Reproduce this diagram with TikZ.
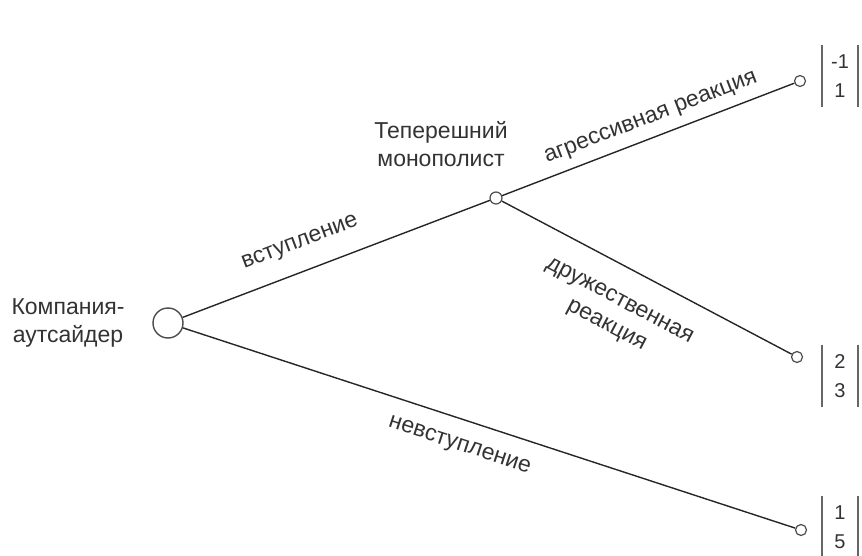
\documentclass[tikz,border=0pt]{standalone}
\usepackage{fontspec}
\setmainfont{Liberation Sans}
\usetikzlibrary{positioning}

\begin{document}
\begin{tikzpicture}[x=0.5pt,y=-0.5pt,
	% Styles
	bignode/.style={circle,draw=black!70,fill=white,line width=0.7pt,inner sep=0pt,minimum size=15pt},
	smallnode/.style={circle,draw=black!70,fill=white,line width=0.6pt,inner sep=0pt,minimum size=6pt},
	leaf/.style={circle,draw=black!70,fill=white,line width=0.6pt,inner sep=0pt,minimum size=5.5pt},
	payoff/.style={align=center,inner sep=0pt,minimum width=17.5pt,minimum height=31pt,text=black!80,font=\fontsize{10}{14.5}\selectfont},
	lbl/.style={inner sep=0pt,text=black!80,font=\fontsize{11.5}{14}\selectfont},
	branch/.style={draw=black!85,line width=0.7pt},
	]
	\useasboundingbox (0,0) rectangle (862,556);

	% Nodes
	\node at (168,323) (outsider) [bignode] {};
	\node at (496,198) (monopolist) [smallnode] {};
	\node at (800,81) (aggr) [leaf] {};
	\node at (797,357) (friend) [leaf] {};
	\node at (801,530) (stayout) [leaf] {};

	% Branches
	\draw[branch] (outsider) -- node[lbl,sloped,pos=0.415,above=9pt] {вступление} (monopolist);
	\draw[branch] (monopolist) -- node[lbl,sloped,pos=0.533,above=4.5pt] {агрессивная реакция} (aggr);
	\draw[branch] (monopolist) -- node[lbl,sloped,pos=0.46,below=12.5pt,align=center] {дружественная\\реакция} (friend);
	\draw[branch] (outsider) -- node[lbl,sloped,pos=0.465,below=8.7pt] {невступление} (stayout);

	% Text
	\node at (68,323) (outsidertxt) [lbl,align=center] {Компания-\\аутсайдер};
	\node at (441,144) (monotxt) [lbl,align=center] {Теперешний\\монополист};

	% Payoffs
	\node at (840,76) (p1) [payoff] {-1\\1};
	\node at (840,376) (p2) [payoff] {2\\3};
	\node at (840,527) (p3) [payoff] {1\\5};
	\foreach \p in {p1,p2,p3} {
		\draw[black!60,line width=0.7pt] (\p.north west) -- (\p.south west);
		\draw[black!60,line width=0.7pt] (\p.north east) -- (\p.south east);
	}
\end{tikzpicture}
\end{document}
